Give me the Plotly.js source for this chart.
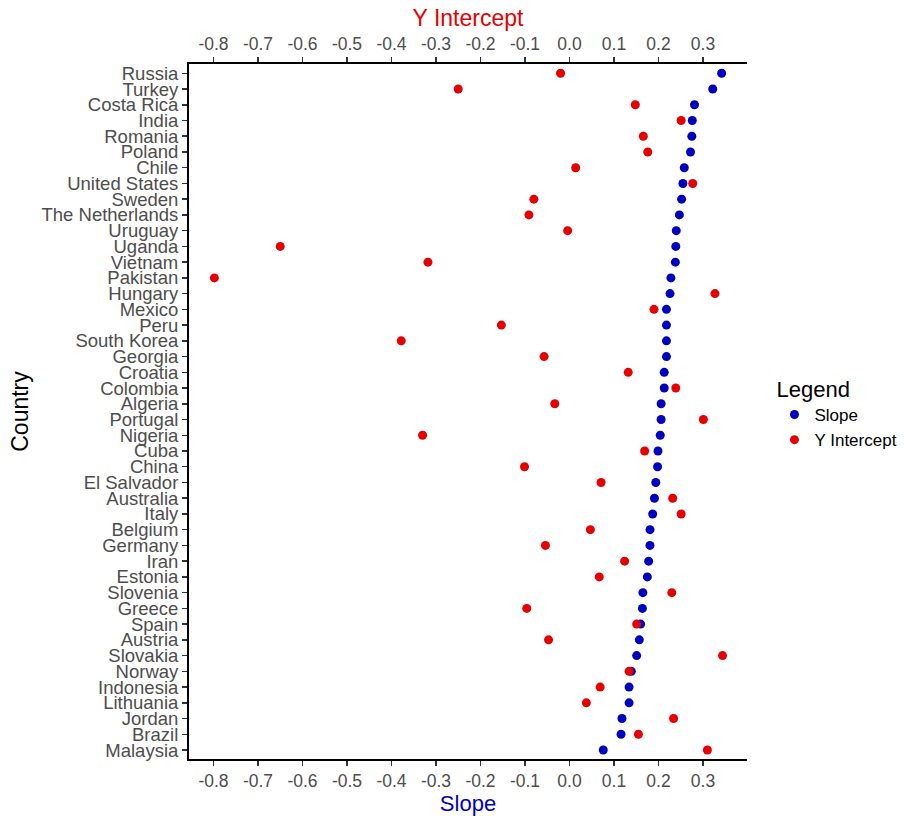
<!DOCTYPE html>
<html>
<head>
<meta charset="utf-8">
<script src="https://cdn.plot.ly/plotly-3.0.1.min.js"></script>
<style>html,body{margin:0;padding:0;background:#fff;}#chart{width:909px;height:816px;}</style>
</head>
<body>
<div id="chart"></div>
<script>
const countries = ["Russia","Turkey","Costa Rica","India","Romania","Poland","Chile","United States","Sweden","The Netherlands","Uruguay","Uganda","Vietnam","Pakistan","Hungary","Mexico","Peru","South Korea","Georgia","Croatia","Colombia","Algeria","Portugal","Nigeria","Cuba","China","El Salvador","Australia","Italy","Belgium","Germany","Iran","Estonia","Slovenia","Greece","Spain","Austria","Slovakia","Norway","Indonesia","Lithuania","Jordan","Brazil","Malaysia"];
const slope = [0.342,0.322,0.281,0.276,0.275,0.272,0.258,0.255,0.252,0.247,0.240,0.239,0.238,0.228,0.226,0.218,0.218,0.218,0.218,0.213,0.213,0.206,0.206,0.204,0.199,0.198,0.194,0.191,0.187,0.181,0.181,0.178,0.175,0.165,0.164,0.160,0.157,0.151,0.139,0.134,0.134,0.118,0.116,0.076];
const yIntercept = [-0.020,-0.250,0.148,0.251,0.166,0.176,0.014,0.277,-0.080,-0.091,-0.004,-0.650,-0.318,-0.798,0.327,0.190,-0.153,-0.378,-0.057,0.132,0.239,-0.033,0.301,-0.330,0.169,-0.101,0.071,0.232,0.251,0.047,-0.054,0.124,0.067,0.230,-0.096,0.151,-0.047,0.344,0.134,0.069,0.038,0.234,0.155,0.310];
const tickVals = [-0.8,-0.7,-0.6,-0.5,-0.4,-0.3,-0.2,-0.1,0.0,0.1,0.2,0.3];
const tickText = ["-0.8","-0.7","-0.6","-0.5","-0.4","-0.3","-0.2","-0.1","0.0","0.1","0.2","0.3"];

const FONT = "Liberation Sans, Arial, sans-serif";
const BLUE = "#0000c0";
const RED = "#e60000";
const xRange = [-0.855, 0.399];

const traces = [
  {x: slope, y: countries, type: "scatter", mode: "markers", name: "Slope",
   xaxis: "x", yaxis: "y", marker: {color: BLUE, size: 9}},
  {x: yIntercept, y: countries, type: "scatter", mode: "markers", name: "Y Intercept",
   xaxis: "x2", yaxis: "y", marker: {color: RED, size: 9}}
];

const axisCommon = {
  range: xRange, tickmode: "array", tickvals: tickVals, ticktext: tickText,
  showgrid: false, zeroline: false, showline: true, linecolor: "#000", linewidth: 2,
  ticks: "outside", ticklen: 5, tickwidth: 1.5, tickcolor: "#333",
  tickfont: {family: FONT, size: 17.5, color: "#4d4d4d"}
};

const layout = {
  width: 909, height: 816,
  margin: {l: 189, r: 162, t: 64, b: 57},
  paper_bgcolor: "#fff", plot_bgcolor: "#fff",
  font: {family: FONT},
  xaxis: Object.assign({}, axisCommon, {
    side: "bottom",
    title: {text: "Slope", font: {family: FONT, size: 22, color: BLUE}, standoff: 6}
  }),
  xaxis2: Object.assign({}, axisCommon, {
    side: "top", overlaying: "x", anchor: "y",
    title: {text: "Y Intercept", font: {family: FONT, size: 23, color: RED}, standoff: 1}
  }),
  yaxis: {
    type: "category", categoryorder: "array", categoryarray: countries,
    tickmode: "array", tickvals: countries, ticktext: countries,
    range: [43.57, -0.59], showgrid: false, zeroline: false,
    showline: true, linecolor: "#000", linewidth: 2,
    ticks: "outside", ticklen: 5, tickwidth: 1.5, tickcolor: "#333",
    tickfont: {family: FONT, size: 18.5, color: "#4d4d4d"},
    title: {text: "Country", font: {family: FONT, size: 23, color: "#000"}, standoff: 6}
  },
  showlegend: true,
  legend: {
    xref: "container", yref: "container",
    x: 0.852, xanchor: "left", y: 0.494, yanchor: "middle",
    title: {text: "Legend", font: {family: FONT, size: 22, color: "#000"}},
    font: {family: FONT, size: 17, color: "#000"},
    bgcolor: "rgba(0,0,0,0)", tracegroupgap: 0
  }
};

Plotly.newPlot("chart", traces, layout, {displayModeBar: false, staticPlot: true});
</script>
</body>
</html>
